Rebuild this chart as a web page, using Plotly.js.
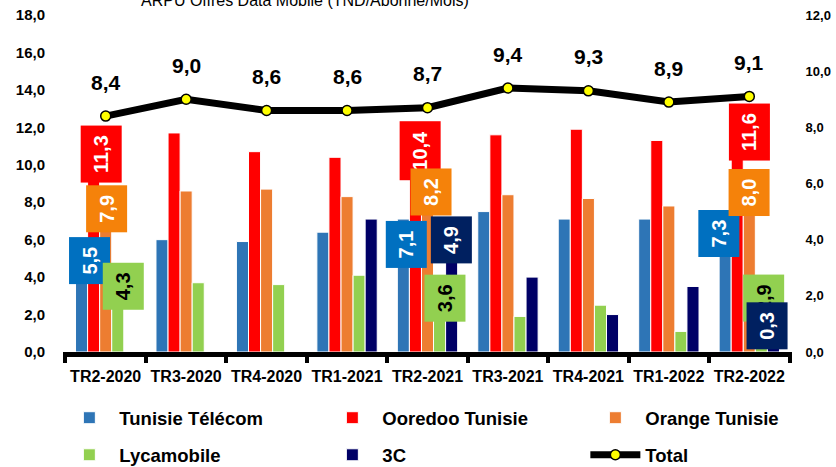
<!DOCTYPE html>
<html>
<head>
<meta charset="utf-8">
<script src="https://cdn.plot.ly/plotly-3.0.1.min.js"></script>
<style>
  html, body { margin: 0; padding: 0; background: #fff; }
  #plotDiv { width: 836px; height: 467px; }
</style>
</head>
<body>
<div id="plotDiv"></div>
<script>
// quarters and ARPU values (TND / abonné / mois)
var quarters = ['TR2-2020', 'TR3-2020', 'TR4-2020', 'TR1-2021', 'TR2-2021', 'TR3-2021', 'TR4-2021', 'TR1-2022', 'TR2-2022'];
var tunisieTelecom = [5.5, 6.0, 5.9, 6.4, 7.1, 7.5, 7.1, 7.1, 7.3];
var ooredoo = [11.3, 11.7, 10.7, 10.4, 10.4, 11.6, 11.9, 11.3, 11.6];
var orange = [7.9, 8.6, 8.7, 8.3, 8.2, 8.4, 8.2, 7.8, 8.0];
var lycamobile = [4.3, 3.7, 3.6, 4.1, 3.6, 1.9, 2.5, 1.1, 2.9];
var c3 = [null, null, null, 7.1, 4.9, 4.0, 2.0, 3.5, 0.3];
var total = [8.4, 9.0, 8.6, 8.6, 8.7, 9.4, 9.3, 8.9, 9.1];

var names = ['Tunisie Télécom', 'Ooredoo Tunisie', 'Orange Tunisie', 'Lycamobile', '3C'];
var series = [tunisieTelecom, ooredoo, orange, lycamobile, c3];
var barColors = ['#2E75B6', '#FF0000', '#ED7D31', '#92D050', '#000066'];
var boxColors = ['#0070C0', '#FF0000', '#F5820A', '#92D050', '#002060'];

// which bars carry a boxed value label (quarter index, series index, pixel nudge)
var boxed = [
  {q: 0, s: 0, dx: 8, dy: -12}, {q: 0, s: 1, dx: 8, dy: -14}, {q: 0, s: 2, dx: 1, dy: -5}, {q: 0, s: 3, dx: 6, dy: -15},
  {q: 4, s: 0, dx: 3, dy: -25}, {q: 4, s: 1, dx: 5, dy: 7}, {q: 4, s: 2, dx: 4, dy: 6}, {q: 4, s: 3, dx: 5, dy: -14}, {q: 4, s: 4, dx: 0, dy: 20},
  {q: 8, s: 0, dx: -6, dy: -18}, {q: 8, s: 1, dx: 12, dy: 3}, {q: 8, s: 2, dx: 0, dy: 10}, {q: 8, s: 3, dx: 2, dy: 0}, {q: 8, s: 4, dx: -6, dy: 21}
];

var FONT = 'Liberation Sans, Arial, sans-serif';
function fmt(v) { return v.toFixed(1).replace('.', ','); }

var plotData = [];
for (var s = 0; s < series.length; s++) {
  plotData.push({
    type: 'bar',
    name: names[s],
    x: quarters,
    y: series[s],
    marker: {color: barColors[s], line: {color: '#ffffff', width: 1}},
    legend: s < 3 ? 'legend' : 'legend2',
    hoverinfo: 'x+y+name'
  });
}
plotData.push({
  type: 'scatter',
  mode: 'lines+markers',
  name: 'Total',
  x: quarters,
  y: total,
  yaxis: 'y2',
  legend: 'legend2',
  line: {color: '#000000', width: 7},
  marker: {size: 10, color: '#FFFF00', line: {color: '#000000', width: 1.5}}
});

var groupOffset = [-0.3, -0.15, 0, 0.15, 0.3];
var annotations = [];
boxed.forEach(function (b) {
  annotations.push({
    x: b.q + groupOffset[b.s], y: series[b.s][b.q], xref: 'x', yref: 'y',
    text: fmt(series[b.s][b.q]), textangle: -90, showarrow: false,
    bgcolor: boxColors[b.s], borderpad: 9,
    xshift: b.dx, yshift: b.dy,
    font: {family: FONT, size: 20, color: b.s === 3 ? '#000000' : '#ffffff', weight: 'bold'}
  });
});
total.forEach(function (v, i) {
  annotations.push({
    x: i, y: v, xref: 'x', yref: 'y2', yshift: 34, showarrow: false,
    text: fmt(v),
    font: {family: FONT, size: 21, color: '#000000', weight: 'bold'}
  });
});
annotations.push({
  x: 0.332, y: 1.0445, xref: 'paper', yref: 'paper', xanchor: 'center', yanchor: 'middle', showarrow: false,
  text: 'ARPU Offres Data Mobile (TND/Abonné/Mois)',
  font: {family: FONT, size: 16, color: '#000000'}
});

var tickFont = {family: FONT, size: 15, color: '#000000', weight: 'bold'};
var legendFont = {family: FONT, size: 18.5, color: '#000000', weight: 'bold'};

var layout = {
  width: 836,
  height: 467,
  margin: {l: 63, r: 44, t: 15, b: 115, autoexpand: false},
  paper_bgcolor: '#ffffff',
  plot_bgcolor: '#ffffff',
  separators: ', ',
  barmode: 'group',
  bargap: 0.25,
  bargroupgap: 0,
  showlegend: true,
  xaxis: {
    type: 'category', tickangle: 0,
    tickfont: {family: FONT, size: 16, color: '#000000', weight: 'bold'},
    showline: true, linecolor: '#000000', linewidth: 5,
    ticks: 'outside', tickson: 'boundaries', ticklen: 6, tickwidth: 4, tickcolor: '#000000',
    ticklabelstandoff: 6,
    showgrid: false, zeroline: false
  },
  yaxis: {
    range: [0, 18], dtick: 2, tickformat: '.1f', tickfont: tickFont,
    ticks: 'outside', ticklen: 14, tickcolor: 'rgba(0,0,0,0)',
    showgrid: false, zeroline: false, showline: false
  },
  yaxis2: {
    range: [0, 12], dtick: 2, tickformat: '.1f', overlaying: 'y', side: 'right',
    tickfont: {family: FONT, size: 13, color: '#000000', weight: 'bold'},
    ticks: 'outside', ticklen: 10, tickcolor: 'rgba(0,0,0,0)',
    showgrid: false, zeroline: false, showline: false
  },
  legend: {
    orientation: 'h', x: -0.005, y: -0.14, xanchor: 'left', yanchor: 'top',
    entrywidth: 198, font: legendFont, itemwidth: 50
  },
  legend2: {
    orientation: 'h', x: -0.005, y: -0.25, xanchor: 'left', yanchor: 'top',
    entrywidth: 198, font: legendFont, itemwidth: 50
  },
  annotations: annotations
};

Plotly.newPlot('plotDiv', plotData, layout, {displayModeBar: false});
</script>
</body>
</html>
